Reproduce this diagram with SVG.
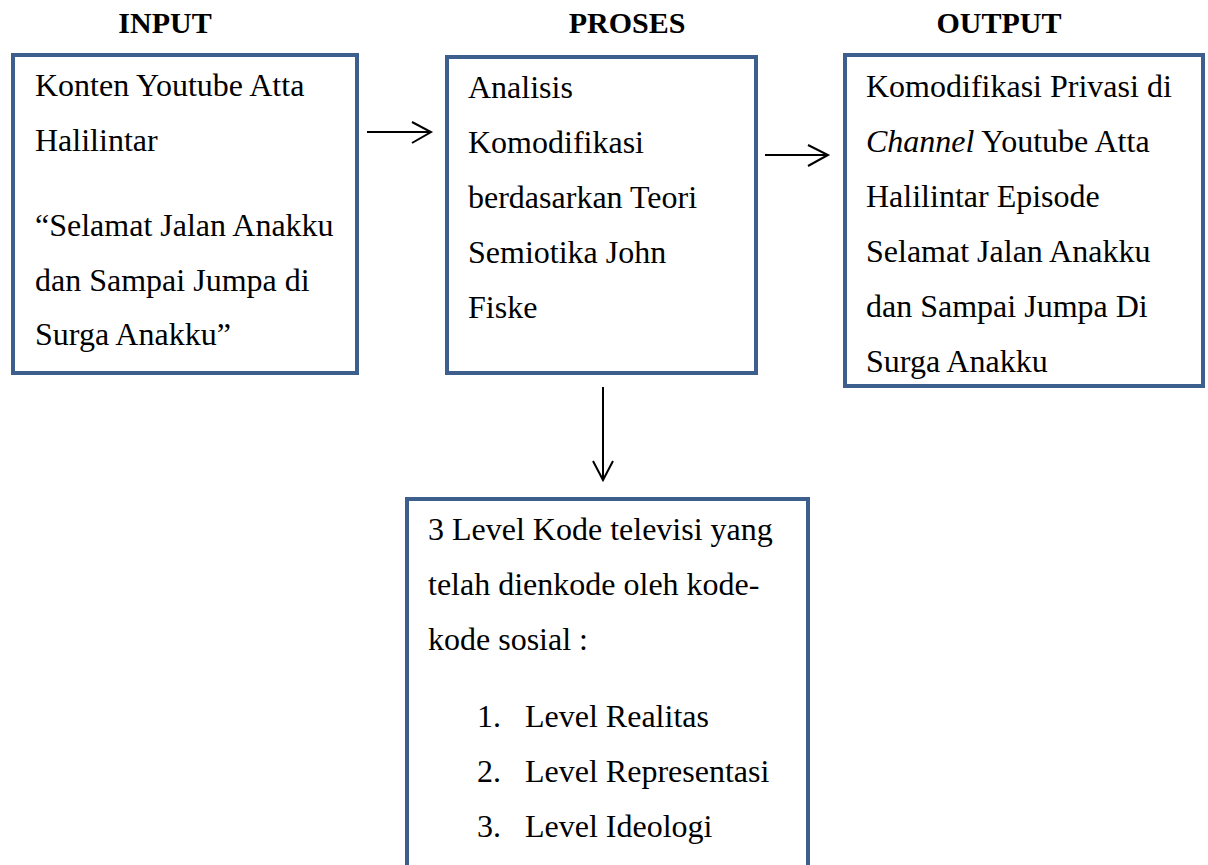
<svg xmlns="http://www.w3.org/2000/svg" width="1208" height="865" viewBox="0 0 1208 865">
<defs>
<marker id="unused" markerWidth="1" markerHeight="1"/>
</defs>
<rect width="1208" height="865" fill="#fff"/>
<g id="input">
<rect x="13" y="55" width="344" height="318" fill="#fff" stroke="#3d5f8e" stroke-width="4"/>
<text x="35" y="96" font-family="Liberation Serif" font-size="32">Konten Youtube Atta</text>
<text x="35" y="151" font-family="Liberation Serif" font-size="32">Halilintar</text>
<text x="35" y="236" font-family="Liberation Serif" font-size="32">“Selamat Jalan Anakku</text>
<text x="35" y="291" font-family="Liberation Serif" font-size="32">dan Sampai Jumpa di</text>
<text x="35" y="345" font-family="Liberation Serif" font-size="32">Surga Anakku”</text>
</g>
<g id="proses">
<rect x="447" y="57" width="309" height="316" fill="#fff" stroke="#3d5f8e" stroke-width="4"/>
<text x="468" y="98" font-family="Liberation Serif" font-size="32">Analisis</text>
<text x="468" y="153" font-family="Liberation Serif" font-size="32">Komodifikasi</text>
<text x="468" y="208" font-family="Liberation Serif" font-size="32">berdasarkan Teori</text>
<text x="468" y="263" font-family="Liberation Serif" font-size="32">Semiotika John</text>
<text x="468" y="318" font-family="Liberation Serif" font-size="32">Fiske</text>
</g>
<g id="output">
<rect x="845" y="55" width="358" height="331" fill="#fff" stroke="#3d5f8e" stroke-width="4"/>
<text x="866" y="97" font-family="Liberation Serif" font-size="32">Komodifikasi Privasi di</text>
<text x="866" y="152" font-family="Liberation Serif" font-size="32"><tspan font-style="italic">Channel</tspan> Youtube Atta</text>
<text x="866" y="207" font-family="Liberation Serif" font-size="32">Halilintar Episode</text>
<text x="866" y="262" font-family="Liberation Serif" font-size="32">Selamat Jalan Anakku</text>
<text x="866" y="317" font-family="Liberation Serif" font-size="32">dan Sampai Jumpa Di</text>
<text x="866" y="372" font-family="Liberation Serif" font-size="32">Surga Anakku</text>
</g>
<g id="levels">
<rect x="407" y="499" width="401" height="380" fill="#fff" stroke="#3d5f8e" stroke-width="4"/>
<text x="428" y="540" font-family="Liberation Serif" font-size="32">3 Level Kode televisi yang</text>
<text x="428" y="595" font-family="Liberation Serif" font-size="32">telah dienkode oleh kode-</text>
<text x="428" y="650" font-family="Liberation Serif" font-size="32">kode sosial :</text>
<text x="477" y="727" font-family="Liberation Serif" font-size="32">1.</text>
<text x="525" y="727" font-family="Liberation Serif" font-size="32">Level Realitas</text>
<text x="477" y="782" font-family="Liberation Serif" font-size="32">2.</text>
<text x="525" y="782" font-family="Liberation Serif" font-size="32">Level Representasi</text>
<text x="477" y="837" font-family="Liberation Serif" font-size="32">3.</text>
<text x="525" y="837" font-family="Liberation Serif" font-size="32">Level Ideologi</text>
</g>
<g id="connectors" stroke="#000" stroke-width="2" fill="none">
<path d="M367 132 H430 M412 122 L431 132 L412 143"/>
<path d="M765 155 H827 M808 145 L828 155 L808 166"/>
<path d="M603 387 V479 M593 461 L603 480 L613 461"/>
</g>
<g id="headers">
<text x="165" y="33" font-family="Liberation Serif" font-size="30" font-weight="bold" text-anchor="middle">INPUT</text>
<text x="627" y="33" font-family="Liberation Serif" font-size="30" font-weight="bold" text-anchor="middle">PROSES</text>
<text x="999" y="33" font-family="Liberation Serif" font-size="30" font-weight="bold" text-anchor="middle">OUTPUT</text>
</g>
</svg>
